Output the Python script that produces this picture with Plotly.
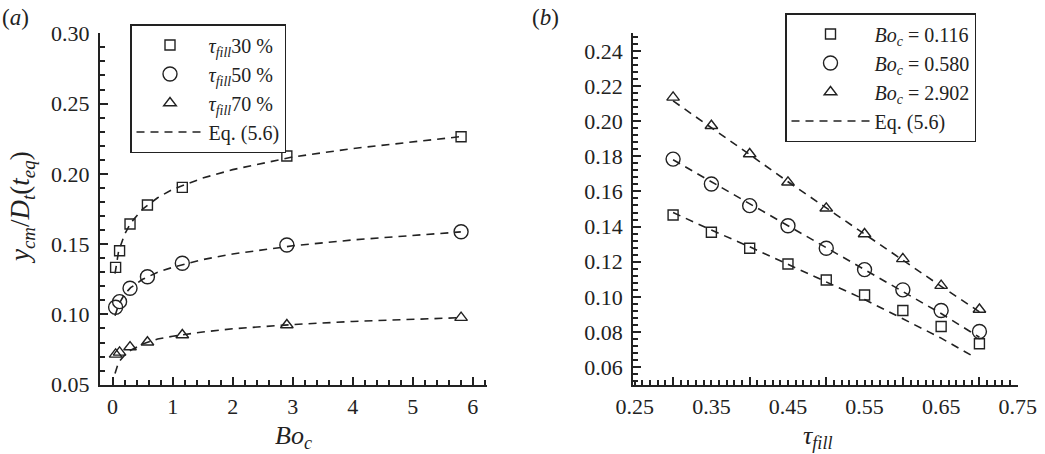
import plotly.graph_objects as go

# ---------------- data: panel (a) ----------------
bo_a = [0.05, 0.116, 0.29, 0.58, 1.161, 2.902, 5.804]
fill30 = [0.1335, 0.1453, 0.1643, 0.1778, 0.1904, 0.2127, 0.2264]
fill50 = [0.1051, 0.1091, 0.1186, 0.1268, 0.1364, 0.1494, 0.1588]
fill70 = [0.0716, 0.0730, 0.0768, 0.0802, 0.0854, 0.0925, 0.0977]

eq_x_a = [0.04, 0.1, 0.2, 0.3, 0.5, 0.75, 1.0, 1.5, 2.0, 3.0, 4.0, 5.0, 5.8]
eq30 = [0.129, 0.145, 0.157, 0.165, 0.175, 0.183, 0.189, 0.197, 0.203, 0.212, 0.218, 0.223, 0.2265]
eq50 = [0.099, 0.107, 0.1145, 0.119, 0.125, 0.130, 0.1335, 0.139, 0.143, 0.1488, 0.153, 0.1564, 0.1587]
eq70 = [0.058, 0.066, 0.071, 0.0745, 0.079, 0.0825, 0.0845, 0.0875, 0.0898, 0.0928, 0.095, 0.0966, 0.0977]

# ---------------- data: panel (b) ----------------
tau = [0.30, 0.35, 0.40, 0.45, 0.50, 0.55, 0.60, 0.65, 0.70]
bo0116 = [0.1466, 0.1368, 0.1277, 0.1187, 0.1096, 0.1011, 0.0922, 0.0831, 0.0733]
bo0580 = [0.1784, 0.1642, 0.1519, 0.1405, 0.1277, 0.1155, 0.1040, 0.0922, 0.0803]
bo2902 = [0.2135, 0.1974, 0.1813, 0.1652, 0.1504, 0.1358, 0.1216, 0.1064, 0.0928]

eq_x_b0116 = [0.30, 0.35, 0.40, 0.45, 0.50, 0.55, 0.60, 0.65, 0.69]
eq0116 = [0.148, 0.138, 0.1285, 0.1185, 0.1085, 0.0985, 0.0875, 0.0765, 0.0666]
eq0580 = [0.178, 0.1655, 0.153, 0.1405, 0.128, 0.1155, 0.103, 0.0905, 0.077]
eq2902 = [0.2115, 0.1965, 0.181, 0.1655, 0.1505, 0.136, 0.121, 0.106, 0.0915]

xa_ticks = [0, 1, 2, 3, 4, 5, 6]
ya_ticks = [0.05, 0.10, 0.15, 0.20, 0.25, 0.30]
ya_text = ["0.05", "0.10", "0.15", "0.20", "0.25", "0.30"]
xb_ticks = [0.25, 0.35, 0.45, 0.55, 0.65, 0.75]
xb_text = ["0.25", "0.35", "0.45", "0.55", "0.65", "0.75"]
xb_long = [0.30, 0.40, 0.50, 0.60, 0.70]
yb_ticks = [0.06, 0.08, 0.10, 0.12, 0.14, 0.16, 0.18, 0.20, 0.22, 0.24]
yb_text = ["0.06", "0.08", "0.10", "0.12", "0.14", "0.16", "0.18", "0.20", "0.22", "0.24"]

FONT = "'Liberation Serif', 'Times New Roman', Times, serif"
INK = "#222222"
TAU = "<i>τ</i><sub><i>fill</i></sub>"

fig = go.Figure()

def mk(sym, size):
    return dict(symbol=sym, size=size, color=INK, line=dict(color=INK, width=1.4))

dash = dict(color=INK, width=1.6, dash="8px,6px")

# panel (a)
fig.add_trace(go.Scatter(x=bo_a, y=fill30, mode="markers", marker=mk("square-open", 10),
                         name=TAU + "30 %", xaxis="x", yaxis="y", legend="legend"))
fig.add_trace(go.Scatter(x=bo_a, y=fill50, mode="markers", marker=mk("circle-open", 14),
                         name=TAU + "50 %", xaxis="x", yaxis="y", legend="legend"))
fig.add_trace(go.Scatter(x=bo_a, y=fill70, mode="markers", marker=mk("triangle-up-open", 11),
                         name=TAU + "70 %", xaxis="x", yaxis="y", legend="legend"))
fig.add_trace(go.Scatter(x=eq_x_a, y=eq30, mode="lines", line=dash, name="Eq. (5.6)",
                         xaxis="x", yaxis="y", legend="legend"))
fig.add_trace(go.Scatter(x=eq_x_a, y=eq50, mode="lines", line=dash, showlegend=False,
                         xaxis="x", yaxis="y"))
fig.add_trace(go.Scatter(x=eq_x_a, y=eq70, mode="lines", line=dash, showlegend=False,
                         xaxis="x", yaxis="y"))

# panel (b)
fig.add_trace(go.Scatter(x=tau, y=bo0116, mode="markers", marker=mk("square-open", 10),
                         name="<i>Bo</i><sub><i>c</i></sub> = 0.116", xaxis="x2", yaxis="y2", legend="legend2"))
fig.add_trace(go.Scatter(x=tau, y=bo0580, mode="markers", marker=mk("circle-open", 14),
                         name="<i>Bo</i><sub><i>c</i></sub> = 0.580", xaxis="x2", yaxis="y2", legend="legend2"))
fig.add_trace(go.Scatter(x=tau, y=bo2902, mode="markers", marker=mk("triangle-up-open", 11),
                         name="<i>Bo</i><sub><i>c</i></sub> = 2.902", xaxis="x2", yaxis="y2", legend="legend2"))
fig.add_trace(go.Scatter(x=eq_x_b0116, y=eq0116, mode="lines", line=dash, name="Eq. (5.6)",
                         xaxis="x2", yaxis="y2", legend="legend2"))
fig.add_trace(go.Scatter(x=tau, y=eq0580, mode="lines", line=dash, showlegend=False,
                         xaxis="x2", yaxis="y2"))
fig.add_trace(go.Scatter(x=tau, y=eq2902, mode="lines", line=dash, showlegend=False,
                         xaxis="x2", yaxis="y2"))
# invisible trace to hold the long-tick overlay axis
fig.add_trace(go.Scatter(x=[tau[0]], y=[bo0116[0]], mode="markers", marker=dict(opacity=0),
                         showlegend=False, hoverinfo="skip", xaxis="x3", yaxis="y2"))

ydom = [0.1526, 0.9267]
tickfont = dict(family=FONT, size=22, color=INK)
common = dict(showline=True, linewidth=2, linecolor=INK, showgrid=False, zeroline=False,
              ticks="inside", tickwidth=1.5, tickcolor=INK, tickfont=tickfont,
              automargin=False)

fig.update_layout(
    width=1045, height=454,
    margin=dict(l=0, r=0, t=0, b=0, pad=0, autoexpand=False),
    paper_bgcolor="white", plot_bgcolor="white",
    font=dict(family=FONT, color=INK),
    xaxis=dict(domain=[0.0957, 0.4657], range=[-0.21, 6.23], anchor="y",
               tickmode="array", tickvals=xa_ticks, ticklen=8, ticklabelstandoff=1,
               minor=dict(dtick=0.2, tick0=0, ticklen=5, ticks="inside", tickcolor=INK, tickwidth=1.5),
               **common),
    yaxis=dict(domain=ydom, range=[0.05, 0.30], anchor="x",
               tickmode="array", tickvals=ya_ticks, ticktext=ya_text, ticklen=8, ticklabelstandoff=4,
               minor=dict(dtick=0.01, tick0=0.05, ticklen=5, ticks="inside", tickcolor=INK, tickwidth=1.5),
               **common),
    xaxis2=dict(domain=[0.606, 0.9739], range=[0.248, 0.75], anchor="y2",
                tickmode="array", tickvals=xb_ticks, ticktext=xb_text, ticklen=5, ticklabelstandoff=1,
                minor=dict(dtick=0.01, tick0=0.25, ticklen=5, ticks="inside", tickcolor=INK, tickwidth=1.5),
                **common),
    xaxis3=dict(domain=[0.606, 0.9739], range=[0.248, 0.75], anchor="y2", overlaying="x2",
                showline=False, showgrid=False, zeroline=False, ticks="inside", ticklen=8,
                tickwidth=1.5, tickcolor=INK, tickmode="array", tickvals=xb_long,
                showticklabels=False),
    yaxis2=dict(domain=ydom, range=[0.05, 0.25], anchor="x2",
                tickmode="array", tickvals=yb_ticks, ticktext=yb_text, ticklen=8, ticklabelstandoff=4,
                minor=dict(dtick=0.004, tick0=0.06, ticklen=5, ticks="inside", tickcolor=INK, tickwidth=1.5),
                **common),
    legend=dict(x=130 / 1045, y=1 - 24 / 454, xanchor="left", yanchor="top",
                bordercolor=INK, borderwidth=1.5, bgcolor="white",
                font=dict(family=FONT, size=20, color=INK), itemwidth=67,
                tracegroupgap=0),
    legend2=dict(x=785 / 1045, y=1 - 13 / 454, xanchor="left", yanchor="top",
                 bordercolor=INK, borderwidth=1.5, bgcolor="white",
                 font=dict(family=FONT, size=20, color=INK), itemwidth=78,
                 tracegroupgap=0),
    annotations=[
        dict(text="(<i>a</i>)", x=0.0, y=1 - 18 / 454, xref="paper", yref="paper",
             xanchor="left", yanchor="middle", showarrow=False,
             font=dict(family=FONT, size=23, color=INK)),
        dict(text="(<i>b</i>)", x=530 / 1045, y=1 - 18 / 454, xref="paper", yref="paper",
             xanchor="left", yanchor="middle", showarrow=False,
             font=dict(family=FONT, size=23, color=INK)),
        dict(text="<i>Bo</i><sub><i>c</i></sub>", x=293 / 1045, y=1 - 437 / 454,
             xref="paper", yref="paper", xanchor="center", yanchor="middle", showarrow=False,
             font=dict(family=FONT, size=26, color=INK)),
        dict(text=TAU, x=818 / 1045, y=1 - 437 / 454,
             xref="paper", yref="paper", xanchor="center", yanchor="middle", showarrow=False,
             font=dict(family=FONT, size=26, color=INK)),
        dict(text="<i>y</i><sub><i>cm</i></sub>/<i>D</i><sub><i>t</i></sub>(<i>t</i><sub><i>eq</i></sub>)",
             x=22 / 1045, y=1 - 208 / 454, xref="paper", yref="paper",
             xanchor="center", yanchor="middle", textangle=-90, showarrow=False,
             font=dict(family=FONT, size=27, color=INK)),
    ],
)

fig.write_html("out.html")
